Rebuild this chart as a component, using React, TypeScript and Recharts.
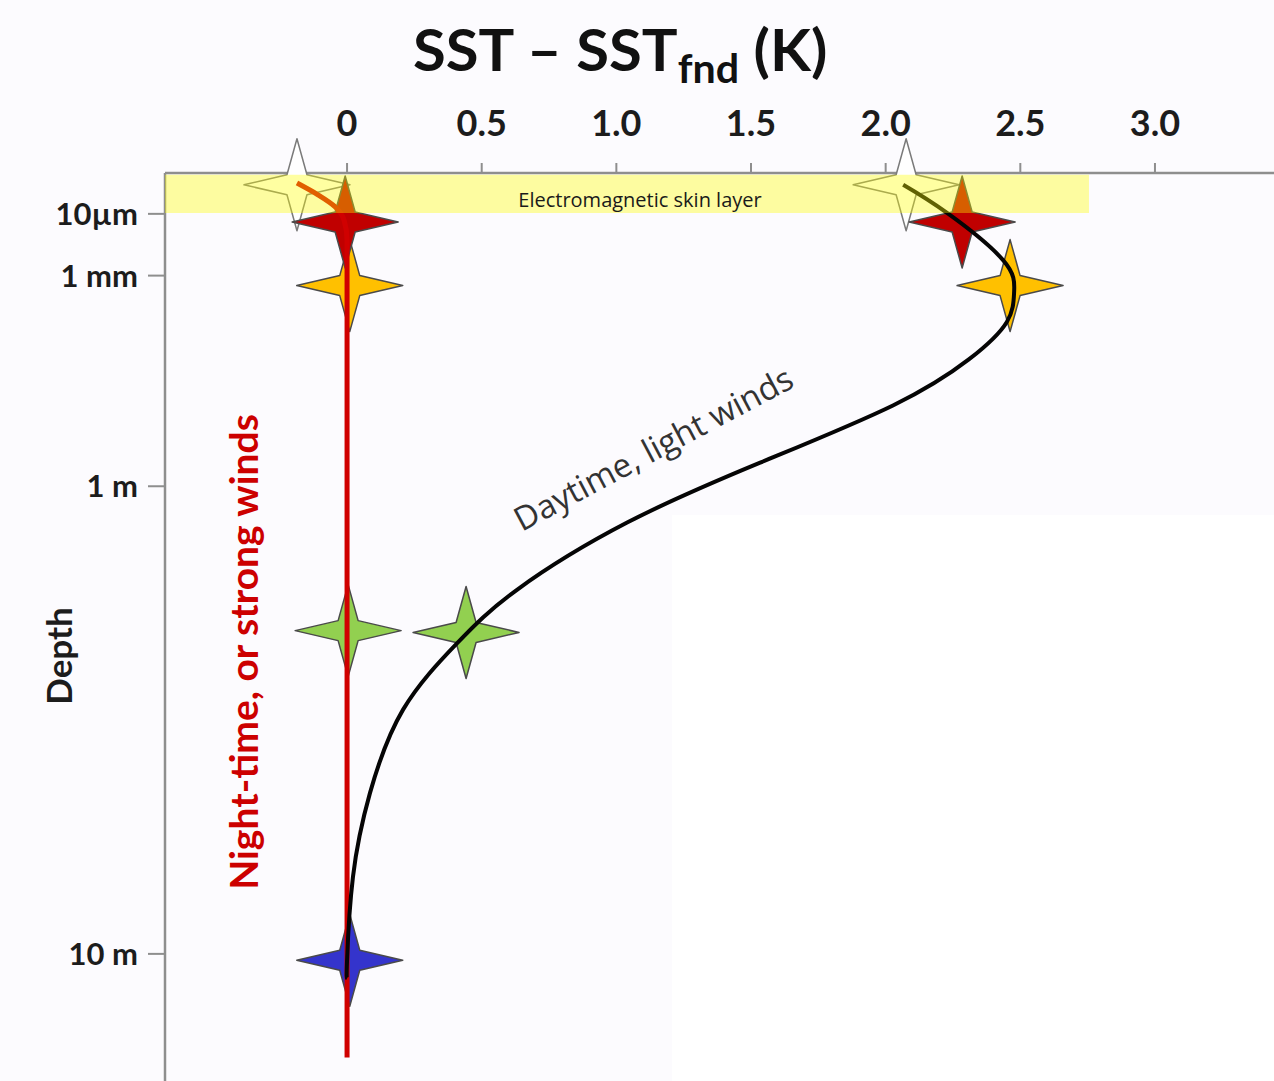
import React from "react";
import { ComposedChart, XAxis, YAxis, Line, Scatter, ReferenceArea } from "recharts";

// SST – SSTfnd profile vs depth (schematic depth axis, 0 = surface, 100 = bottom of panel)
const X_TICKS = [0, 0.5, 1, 1.5, 2, 2.5, 3];
const DEPTH_TICKS = [4.5, 11.3, 34.5, 86.0];
const DEPTH_LABELS = ["10µm", "1 mm", "1 m", "10 m"];

// night-time / strong winds profile
const NIGHT_T = [-0.186, -0.108, -0.045, -0.011, 0, 0];
const NIGHT_D = [1.1, 2.4, 3.7, 5.2, 7.4, 97.4];

// daytime / light winds profile
const DAY_T = [2.065, 2.228, 2.436, 2.477, 2.45, 2.31, 2.027, 1.534, 1.04, 0.631, 0.408, 0.208, 0.085, 0.022, 0, 0];
const DAY_D = [1.3, 4.4, 9.6, 13.1, 16.4, 20.5, 25.6, 31.9, 38.5, 45.9, 51.8, 59.1, 68.3, 77.5, 86.7, 88.7];

// measurement stars
const STAR_WHITE = [{ t: -0.186, d: 1.3 }, { t: 2.076, d: 1.3 }];
const STAR_YELLOW = [{ t: 0.01, d: 12.4 }, { t: 2.462, d: 12.4 }];
const STAR_GREEN = [{ t: 0.004, d: 50.4 }, { t: 0.442, d: 50.6 }];
const STAR_BLUE = [{ t: 0.01, d: 86.7 }];
const STAR_RED = [{ t: -0.007, d: 5.4 }, { t: 2.284, d: 5.4 }];

const SKIN_LAYER = { t1: -0.676, t2: 2.755, d1: 0.2, d2: 4.4 };

const nightData = NIGHT_T.map((t, i) => ({ t, d: NIGHT_D[i] }));
const dayData = DAY_T.map((t, i) => ({ t, d: DAY_D[i] }));

const BOLD = "Lato, 'Open Sans', sans-serif";
const REG = "'Open Sans', Lato, sans-serif";
const AXIS_GREY = "#8e8e8e";

const fmtX = (v: number) => (v === 0 ? "0" : v.toFixed(1));

function makeStar(fill: string, stroke = "#4a4a4a") {
  return (props: any) => {
    const { cx, cy } = props;
    if (cx == null || cy == null) return <g />;
    const w = 53, h = 46, i = 10;
    const d = `M0,${-h} L${i},${-i} L${w},0 L${i},${i} L0,${h} L${-i},${i} L${-w},0 L${-i},${-i} Z`;
    return (
      <path d={d} transform={`translate(${cx},${cy})`} fill={fill} stroke={stroke} strokeWidth={1.5} strokeLinejoin="round" />
    );
  };
}

const XTick = (props: any) => {
  const { x, payload } = props;
  return (
    <text x={x} y={136} textAnchor="middle" fontFamily={BOLD} fontWeight={700} fontSize={36} fill="#1c1c1c">
      {fmtX(payload.value)}
    </text>
  );
};

const YTick = (props: any) => {
  const { y, payload, index } = props;
  const idx = DEPTH_TICKS.indexOf(payload.value);
  return (
    <text x={138} y={y} dy={11} textAnchor="end" fontFamily={BOLD} fontWeight={700} fontSize={31} fill="#1c1c1c">
      {DEPTH_LABELS[idx >= 0 ? idx : index]}
    </text>
  );
};

export default function App() {
  return (
    <div style={{ position: "absolute", left: 0, top: 0, width: 1274, height: 1081, background: "#fcfbfe", overflow: "hidden" }}>
      <div style={{ position: "absolute", left: 672, top: 515, width: 602, height: 566, background: "#ffffff" }} />
      <div style={{ position: "absolute", left: 0, top: 0 }}>
        <ComposedChart width={1274} height={1081} layout="vertical" margin={{ top: 0, right: 0, bottom: 0, left: 0 }}>
          <XAxis
            type="number"
            dataKey="t"
            orientation="top"
            height={173}
            domain={[-0.676, 3.442]}
            ticks={X_TICKS}
            interval={0}
            tickSize={10}
            axisLine={{ stroke: AXIS_GREY, strokeWidth: 2.5 }}
            tickLine={{ stroke: AXIS_GREY, strokeWidth: 2 }}
            tick={<XTick />}
          />
          <YAxis
            type="number"
            dataKey="d"
            width={165}
            domain={[0, 100]}
            ticks={DEPTH_TICKS}
            interval={0}
            tickSize={17}
            axisLine={{ stroke: AXIS_GREY, strokeWidth: 2.5 }}
            tickLine={{ stroke: AXIS_GREY, strokeWidth: 2 }}
            tick={<YTick />}
          />
          <Scatter data={STAR_WHITE} fill="#ffffff" shape={makeStar("#ffffff", "#7a7a7a")} isAnimationActive={false} zIndex={510} />
          <Scatter data={STAR_YELLOW} fill="#ffc000" shape={makeStar("#ffc000")} isAnimationActive={false} zIndex={520} />
          <Scatter data={STAR_GREEN} fill="#92d050" shape={makeStar("#92d050")} isAnimationActive={false} zIndex={530} />
          <Scatter data={STAR_BLUE} fill="#3434cc" shape={makeStar("#3434cc")} isAnimationActive={false} zIndex={540} />
          <Scatter data={STAR_RED} fill="#c00000" shape={makeStar("#c00000")} isAnimationActive={false} zIndex={550} />
          <Line data={nightData} dataKey="t" type="monotone" stroke="#d00000" strokeWidth={5} dot={false} activeDot={false} isAnimationActive={false} zIndex={600} />
          <Line data={dayData} dataKey="t" type="natural" stroke="#050505" strokeWidth={4} dot={false} activeDot={false} isAnimationActive={false} zIndex={610} />
          <ReferenceArea
            x1={SKIN_LAYER.t1}
            x2={SKIN_LAYER.t2}
            y1={SKIN_LAYER.d1}
            y2={SKIN_LAYER.d2}
            fill="#ffff00"
            fillOpacity={0.37}
            stroke="none"
            ifOverflow="visible"
            zIndex={700}
          />
        </ComposedChart>
      </div>

      {/* title */}
      <div style={{ position: "absolute", left: 413, top: 20, fontFamily: BOLD, fontWeight: 700, fontSize: 58, lineHeight: 1, color: "#111", whiteSpace: "nowrap", transform: "scaleX(1.03)", transformOrigin: "left center" }}>
        SST – SST<span style={{ fontSize: 40, position: "relative", top: 12 }}>fnd</span> (K)
      </div>

      {/* skin layer label */}
      <div style={{ position: "absolute", left: 640, top: 199, transform: "translate(-50%,-50%)", fontFamily: REG, fontSize: 20, color: "#1a1a1a", whiteSpace: "nowrap" }}>
        Electromagnetic skin layer
      </div>

      {/* depth label */}
      <div style={{ position: "absolute", left: 58, top: 656, transform: "translate(-50%,-50%) rotate(-90deg)", fontFamily: BOLD, fontWeight: 700, fontSize: 35, color: "#1c1c1c", whiteSpace: "nowrap" }}>
        Depth
      </div>

      {/* night-time label */}
      <div style={{ position: "absolute", left: 243, top: 652, transform: "translate(-50%,-50%) rotate(-90deg)", fontFamily: BOLD, fontWeight: 700, fontSize: 39, color: "#cc0000", whiteSpace: "nowrap" }}>
        Night-time, or strong winds
      </div>

      {/* daytime label */}
      <div style={{ position: "absolute", left: 653, top: 448, transform: "translate(-50%,-50%) rotate(-28deg)", fontFamily: REG, fontSize: 33, color: "#333", whiteSpace: "nowrap" }}>
        Daytime, light winds
      </div>
    </div>
  );
}
